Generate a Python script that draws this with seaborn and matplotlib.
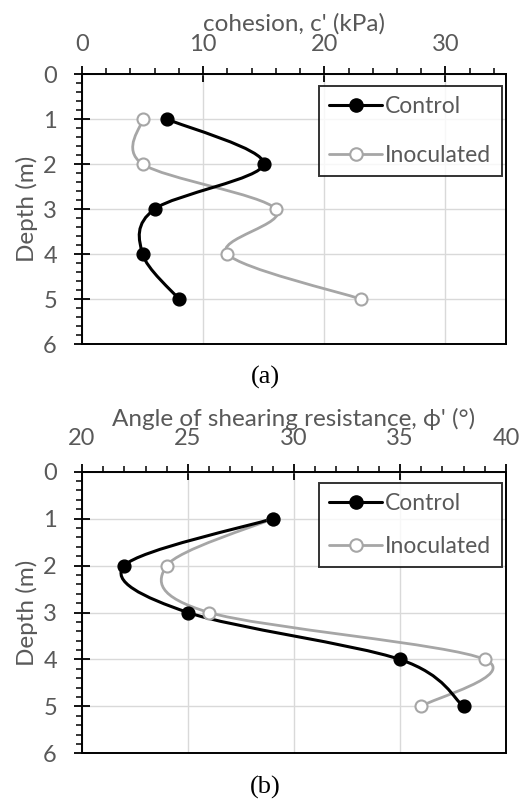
import numpy as np
import pandas as pd
import matplotlib
matplotlib.use("Agg")
import matplotlib.pyplot as plt
from matplotlib.path import Path
from matplotlib.patches import PathPatch
from matplotlib.lines import Line2D
from matplotlib.ticker import MultipleLocator
import seaborn as sns

# ---------------- data ----------------
depth = [1, 2, 3, 4, 5]
cohesion_control = [7, 15, 6, 5, 8]
cohesion_inoculated = [5, 5, 16, 12, 23]
phi_control = [29, 22, 25, 35, 38]
phi_inoculated = [29, 24, 26, 39, 36]
series_names = ["Control", "Inoculated"]

# ---------------- style ----------------
sns.set_style("white")
plt.rcParams["font.family"] = ["Lato", "DejaVu Sans"]
TXT = "#595959"
GRID = "#d9d9d9"
GRAY = "#a6a6a6"
FS_TICK = 17
FS_LABEL = 17.5
FS_LEG = 16.5

fig = plt.figure(figsize=(5.30, 8.01), dpi=100)
ax1 = fig.add_axes([0.1547, 0.5705, 0.8000, 0.3371])
ax2 = fig.add_axes([0.1547, 0.0595, 0.8000, 0.3516])


def smooth_path(ax, xs, ys):
    """Excel-like smoothed line: cubic Bezier (Catmull-Rom) in display space."""
    pts = ax.transData.transform(np.column_stack([xs, ys]))
    n = len(pts)
    verts = [pts[0]]
    codes = [Path.MOVETO]
    for i in range(n - 1):
        p0 = pts[i - 1] if i > 0 else pts[i]
        p1 = pts[i]
        p2 = pts[i + 1]
        p3 = pts[i + 2] if i + 2 < n else pts[i + 1]
        c1 = p1 + (p2 - p0) / 6.0
        c2 = p2 - (p3 - p1) / 6.0
        verts += [c1, c2, p2]
        codes += [Path.CURVE4] * 3
    verts = ax.transData.inverted().transform(np.array(verts))
    return Path(verts, codes)


def draw_panel(ax, xc, xi, xlim, xmajor, xminor, xlabel, legend_top, legend_spacing, xpad):
    ax.set_xlim(*xlim)
    ax.set_ylim(6, 0)
    df = pd.DataFrame({
        "depth": depth * 2,
        "value": list(xc) + list(xi),
        "series": [series_names[0]] * 5 + [series_names[1]] * 5,
    })
    fig.canvas.draw()
    ax.add_patch(PathPatch(smooth_path(ax, xi, depth), facecolor="none",
                           edgecolor=GRAY, lw=2.0, zorder=3, capstyle="round"))
    ax.add_patch(PathPatch(smooth_path(ax, xc, depth), facecolor="none",
                           edgecolor="black", lw=2.2, zorder=4, capstyle="round"))
    sns.scatterplot(data=df[df.series == "Inoculated"], x="value", y="depth", ax=ax,
                    s=75, color="white", edgecolor=GRAY, linewidth=1.5, zorder=5, legend=False)
    sns.scatterplot(data=df[df.series == "Control"], x="value", y="depth", ax=ax,
                    s=85, color="black", edgecolor="black", linewidth=1.0, zorder=6, legend=False)
    ax.set_xlim(*xlim)
    ax.set_ylim(6, 0)

    ax.xaxis.set_label_position("top")
    ax.xaxis.tick_top()
    ax.xaxis.set_major_locator(MultipleLocator(xmajor))
    ax.xaxis.set_minor_locator(MultipleLocator(xminor))
    ax.yaxis.set_major_locator(MultipleLocator(1))
    ax.yaxis.set_minor_locator(MultipleLocator(0.2))
    ax.tick_params(axis="x", which="major", direction="inout", length=12, width=1.3,
                   colors="black", labelcolor=TXT, labelsize=FS_TICK, pad=xpad, top=True, bottom=False)
    ax.tick_params(axis="x", which="minor", direction="out", length=4, width=1.1,
                   colors="black", top=True, bottom=False)
    ax.tick_params(axis="y", which="major", direction="inout", length=12, width=1.3,
                   colors="black", labelcolor=TXT, labelsize=FS_TICK, pad=12, left=True, right=False)
    ax.tick_params(axis="y", which="minor", direction="out", length=4, width=1.1,
                   colors="black", left=True, right=False)
    ax.grid(True, which="major", color=GRID, lw=1.0, zorder=0)
    ax.set_axisbelow(True)
    for s in ax.spines.values():
        s.set_color("black")
        s.set_linewidth(1.4)
    ax.set_xlabel(xlabel, color=TXT, fontsize=FS_LABEL, labelpad=2)
    ax.set_ylabel("Depth (m)", color=TXT, fontsize=FS_LABEL, labelpad=4)

    handles = [
        Line2D([], [], color="black", lw=2.2, marker="o", ms=9.5, mfc="black", mec="black"),
        Line2D([], [], color=GRAY, lw=2.0, marker="o", ms=9, mfc="white", mec=GRAY, mew=1.5),
    ]
    leg = ax.legend(handles, series_names, loc="upper right", bbox_to_anchor=(0.99, legend_top),
                    frameon=True, fancybox=False, fontsize=FS_LEG, labelcolor=TXT,
                    handlelength=2.3, handletextpad=0.15, labelspacing=legend_spacing,
                    borderpad=0.45, borderaxespad=0.0)
    leg.get_frame().set_edgecolor("black")
    leg.get_frame().set_linewidth(1.4)
    leg.set_zorder(10)


draw_panel(ax1, cohesion_control, cohesion_inoculated, (0, 35), 10, 2,
           "cohesion, c' (kPa)", 0.956, 1.2, 8)
draw_panel(ax2, phi_control, phi_inoculated, (20, 40), 5, 1,
           "Angle of shearing resistance, \u03d5' (\u00b0)", 0.96, 0.95, 10)

fig.text(0.50, 0.529, "(a)", ha="center", va="center", fontsize=19,
         family="Liberation Serif", color="black")
fig.text(0.50, 0.017, "(b)", ha="center", va="center", fontsize=19,
         family="Liberation Serif", color="black")

fig.savefig("out.png", dpi=100)
